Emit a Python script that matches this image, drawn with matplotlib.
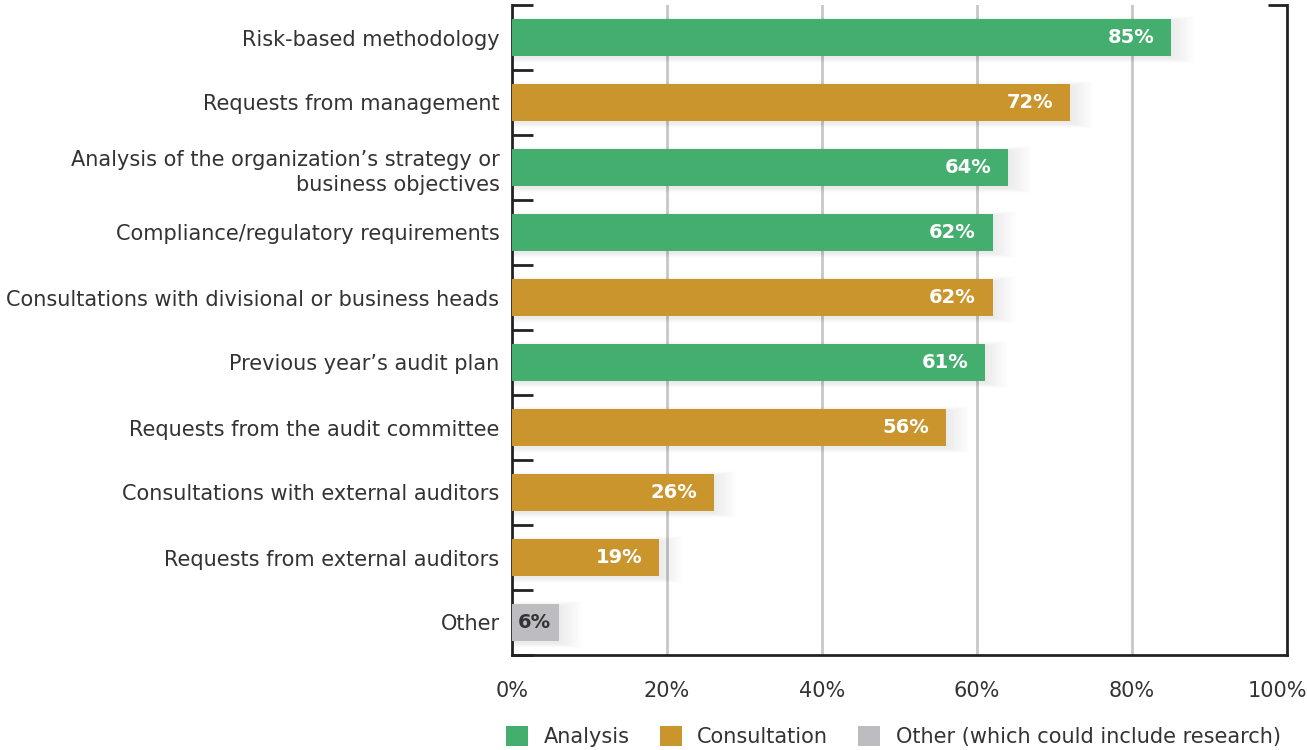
import matplotlib
matplotlib.use("Agg")
import matplotlib.pyplot as plt
import matplotlib.transforms as mtransforms
from matplotlib.patches import Patch
import numpy as np

categories = [
    "Risk-based methodology",
    "Requests from management",
    "Analysis of the organization\u2019s strategy or\nbusiness objectives",
    "Compliance/regulatory requirements",
    "Consultations with divisional or business heads",
    "Previous year\u2019s audit plan",
    "Requests from the audit committee",
    "Consultations with external auditors",
    "Requests from external auditors",
    "Other",
]
values = [85, 72, 64, 62, 62, 61, 56, 26, 19, 6]
groups = ["Analysis", "Consultation", "Analysis", "Analysis", "Consultation",
          "Analysis", "Consultation", "Consultation", "Consultation", "Other"]
legend_labels = ["Analysis", "Consultation", "Other (which could include research)"]
colors = {"Analysis": "#44AE6F", "Consultation": "#C9952C", "Other": "#BDBDC1"}
xticks = [0, 20, 40, 60, 80, 100]

FS = 15
plt.rcParams['font.family'] = ['DejaVu Sans']
fig = plt.figure(figsize=(13.07, 7.5), dpi=100)
ax = fig.add_axes([512/1307, 1-655/750, 775/1307, 650/750])

y = np.arange(len(categories))
bar_h = 0.56
# soft shadows
for yi, v in zip(y, values):
    for k in np.linspace(0.3, 3.0, 10):
        ax.barh(yi + 0.03, v + k, height=bar_h + 0.05 * k, left=0,
                color="#000000", alpha=0.009, zorder=2, linewidth=0)
bars = ax.barh(y, values, height=bar_h, color=[colors[g] for g in groups], zorder=3)

for yi, v, g in zip(y, values, groups):
    if g == "Other":
        ax.text(0.7, yi, f"{v}%", ha="left", va="center", fontsize=FS - 1,
                fontweight="semibold", color="#333333", zorder=4)
    else:
        ax.annotate(f"{v}%", xy=(v, yi), xytext=(-12, 0), textcoords="offset points",
                    ha="right", va="center", fontsize=FS - 1, fontweight="semibold",
                    color="white", zorder=4)

ax.set_xlim(0, 100)
ax.set_ylim(len(categories) - 0.5, -0.5)
ax.set_xticks(xticks)
ax.set_xticklabels([f"{t}%" for t in xticks], fontsize=FS, color="#333333")
ax.tick_params(axis="x", length=0, pad=19)
last = ax.get_xticklabels()[-1]
last.set_transform(last.get_transform() + mtransforms.ScaledTranslation(-10/100, 0, fig.dpi_scale_trans))
ax.set_yticks(y)
ax.set_yticklabels(categories, fontsize=FS, color="#333333", linespacing=1.35)
ax.tick_params(axis="y", which="major", length=0, pad=9)
ax.set_yticks(np.arange(-0.5, len(categories)), minor=True)
ax.tick_params(axis="y", which="minor", direction="in", length=15, width=2, color="#222222")

for t in xticks[1:-1]:
    ax.axvline(t, color="#C8C8C8", lw=2, zorder=1)

ax.spines["top"].set_visible(False)
for s in ["left", "right", "bottom"]:
    ax.spines[s].set_color("#222222")
    ax.spines[s].set_linewidth(2)
ax.plot([0.975, 1.0], [1.0, 1.0], transform=ax.transAxes, color="#222222",
        lw=2, clip_on=False, zorder=5, solid_capstyle="butt")

handles = [Patch(facecolor=colors[k], edgecolor="none") for k in ["Analysis", "Consultation", "Other"]]
fig.legend(handles, legend_labels, loc="lower left", bbox_to_anchor=(506/1307, 0.004),
           borderaxespad=0, borderpad=0,
           ncol=3, frameon=False, fontsize=FS, handlelength=1.05, handleheight=1.05,
           handletextpad=0.75, columnspacing=1.45, labelcolor="#333333")

fig.savefig("out.png", dpi=100)
